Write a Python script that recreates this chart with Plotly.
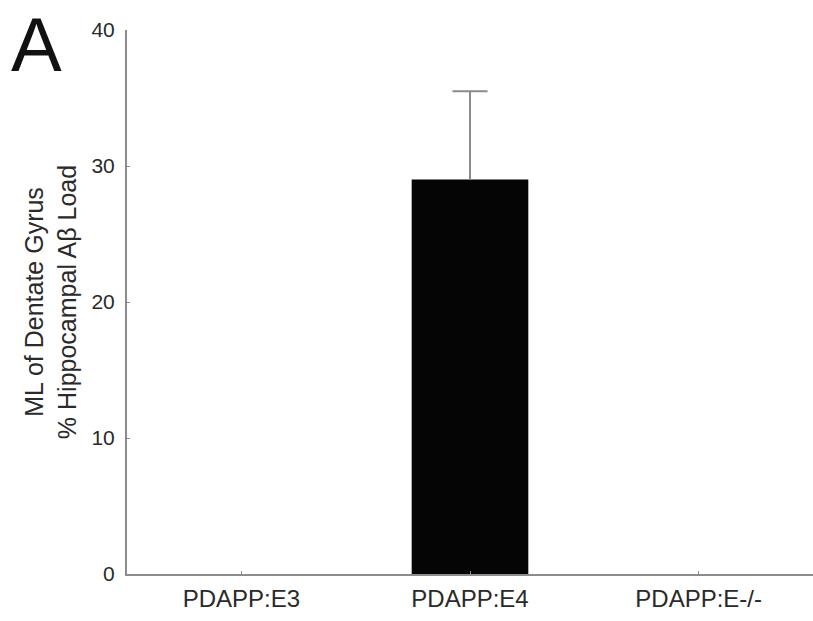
import plotly.graph_objects as go

# Genotype groups and hippocampal A-beta load in the dentate gyrus ML
groups = ["PDAPP:E3", "PDAPP:E4", "PDAPP:E-/-"]
abeta_load = [0, 29, 0]
sem_upper = [None, 6.5, None]

y_ticks = [0, 10, 20, 30, 40]

FONT = "Liberation Sans, Arial, sans-serif"
AXIS_GREY = "#8c8c8c"
TEXT = "#2a2a2a"

x_pos = list(range(len(groups)))

fig = go.Figure()
fig.add_trace(go.Bar(
    x=x_pos,
    y=abeta_load,
    width=0.51,
    marker=dict(color="#050505", line=dict(width=0)),
    showlegend=False,
    hoverinfo="skip",
))

# Upper-only error whiskers: stem from the bar top, cap at mean + SEM
err_x = [x for x, e in zip(x_pos, sem_upper) if e is not None]
err_mean = [m for m, e in zip(abeta_load, sem_upper) if e is not None]
err_val = [e for e in sem_upper if e is not None]
err_top = [m + e for m, e in zip(err_mean, err_val)]

fig.add_trace(go.Scatter(
    x=err_x,
    y=err_top,
    mode="markers",
    marker=dict(symbol="line-ew", size=25, color="#8a8a8a",
                line=dict(width=2, color="#8a8a8a")),
    error_y=dict(
        type="data",
        symmetric=False,
        array=[0] * len(err_val),
        arrayminus=err_val,
        color="#8a8a8a",
        thickness=2,
        width=0,
    ),
    showlegend=False,
    hoverinfo="skip",
))

fig.update_layout(
    width=813,
    height=621,
    margin=dict(l=127, r=0, t=30, b=47),
    paper_bgcolor="white",
    plot_bgcolor="white",
    font=dict(family=FONT, color=TEXT),
    xaxis=dict(
        range=[-0.5, 2.5],
        tickmode="array",
        tickvals=x_pos,
        ticktext=groups,
        tickfont=dict(size=24, color=TEXT),
        showline=True,
        linecolor=AXIS_GREY,
        linewidth=2,
        ticks="inside",
        ticklen=3,
        tickcolor=AXIS_GREY,
        ticklabelstandoff=2,
        showgrid=False,
        zeroline=False,
    ),
    yaxis=dict(
        range=[0, 40],
        tickvals=y_ticks,
        tickfont=dict(size=21, color=TEXT),
        showline=True,
        linecolor=AXIS_GREY,
        linewidth=2,
        ticks="inside",
        ticklen=3,
        tickcolor=AXIS_GREY,
        ticklabelstandoff=6,
        showgrid=False,
        zeroline=False,
        title=dict(
            text="ML of Dentate Gyrus<br>% Hippocampal Aβ Load",
            font=dict(size=25, color=TEXT),
            standoff=8,
        ),
    ),
    annotations=[dict(
        text="A",
        xref="paper", yref="paper",
        x=-0.172, y=(574 - 44) / 544,
        xanchor="left", yanchor="middle",
        showarrow=False,
        font=dict(family=FONT, size=76, color="#111111"),
    )],
)

fig.write_html("out.html")
